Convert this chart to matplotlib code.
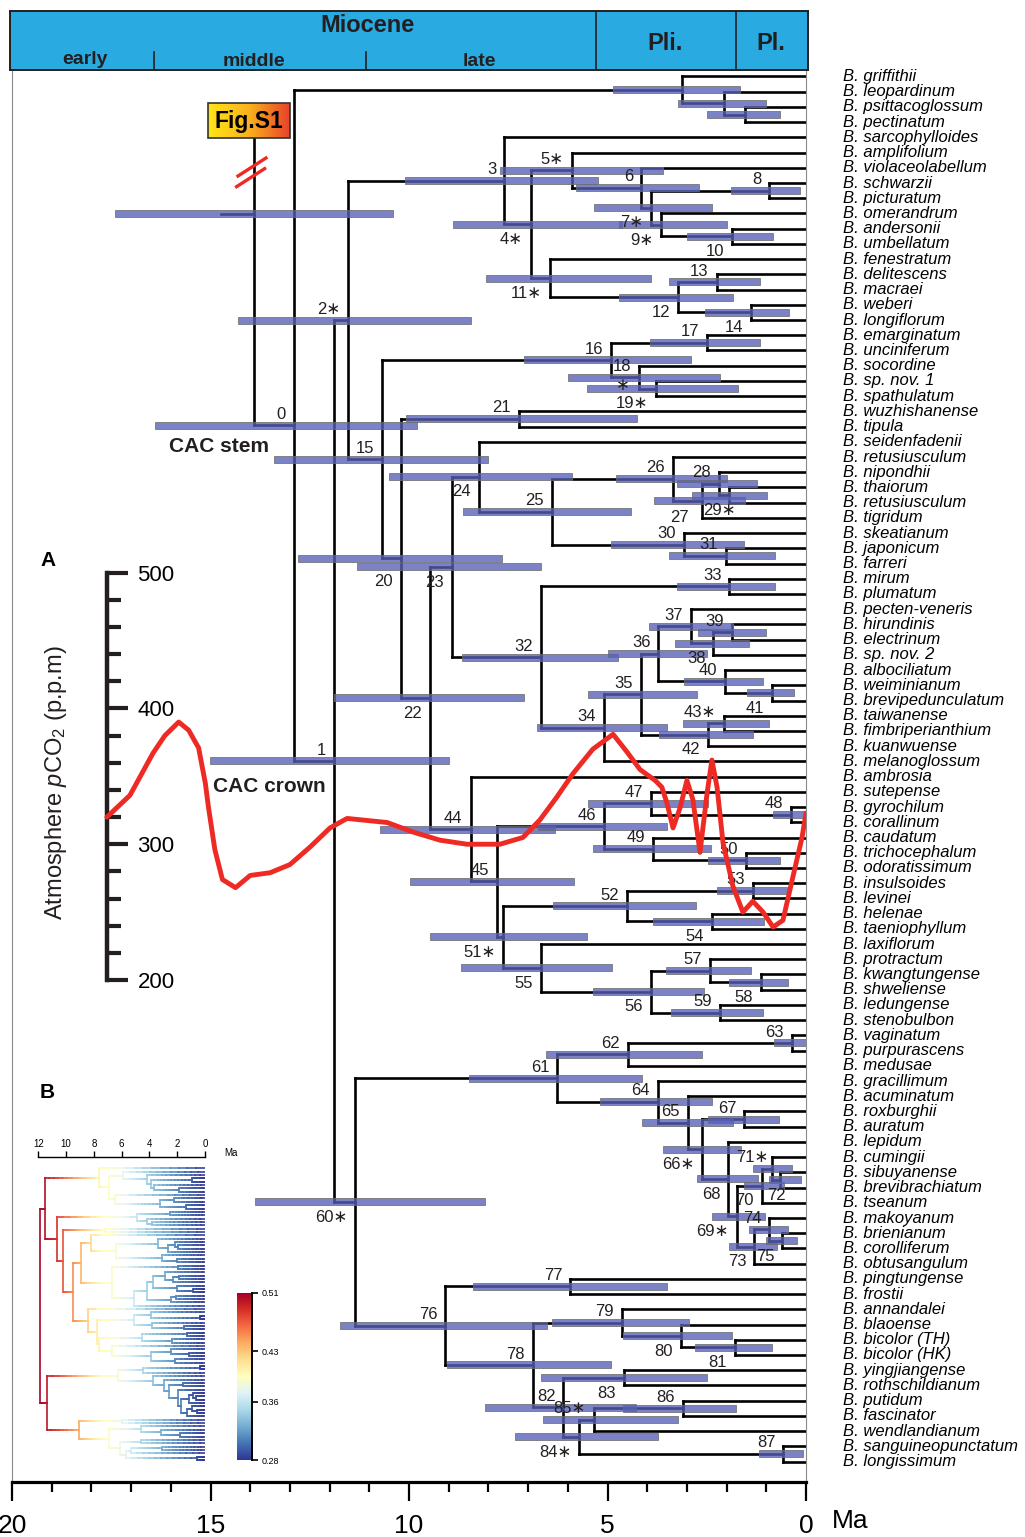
import numpy as np
import matplotlib.pyplot as plt
from matplotlib.collections import LineCollection
from matplotlib.colors import LinearSegmentedColormap
from matplotlib.patches import Rectangle

plt.rcParams['font.family'] = ['Liberation Sans', 'DejaVu Sans']
plt.rcParams['mathtext.fontset'] = 'custom'
plt.rcParams['mathtext.rm'] = 'Liberation Sans'
plt.rcParams['mathtext.it'] = 'Liberation Sans:italic'
NARROW = ['Liberation Sans Narrow', 'Liberation Sans', 'DejaVu Sans']

# ---------------------------------------------------------------- data
tips = ['griffithii', 'leopardinum', 'psittacoglossum', 'pectinatum', 'sarcophylloides',
        'amplifolium', 'violaceolabellum', 'schwarzii', 'picturatum', 'omerandrum',
        'andersonii', 'umbellatum', 'fenestratum', 'delitescens', 'macraei', 'weberi',
        'longiflorum', 'emarginatum', 'unciniferum', 'socordine', 'sp. nov. 1',
        'spathulatum', 'wuzhishanense', 'tipula', 'seidenfadenii', 'retusiusculum',
        'nipondhii', 'thaiorum', 'retusiusculum', 'tigridum', 'skeatianum', 'japonicum',
        'farreri', 'mirum', 'plumatum', 'pecten-veneris', 'hirundinis', 'electrinum',
        'sp. nov. 2', 'albociliatum', 'weiminianum', 'brevipedunculatum', 'taiwanense',
        'fimbriperianthium', 'kuanwuense', 'melanoglossum', 'ambrosia', 'sutepense',
        'gyrochilum', 'corallinum', 'caudatum', 'trichocephalum', 'odoratissimum',
        'insulsoides', 'levinei', 'helenae', 'taeniophyllum', 'laxiflorum', 'protractum',
        'kwangtungense', 'shweliense', 'ledungense', 'stenobulbon', 'vaginatum',
        'purpurascens', 'medusae', 'gracillimum', 'acuminatum', 'roxburghii', 'auratum',
        'lepidum', 'cumingii', 'sibuyanense', 'brevibrachiatum', 'tseanum', 'makoyanum',
        'brienianum', 'corolliferum', 'obtusangulum', 'pingtungense', 'frostii',
        'annandalei', 'blaoense', 'bicolor (TH)', 'bicolor (HK)', 'yingjiangense',
        'rothschildianum', 'putidum', 'fascinator', 'wendlandianum',
        'sanguineopunctatum', 'longissimum']

# topology: node -> children (ints are tip indices, 'out' is the cut outgroup)
children = {
    'root': ['out', '0'], '0': ['A1', '1'], 'A1': [0, 'A2'], 'A2': [1, 'A3'], 'A3': [2, 3],
    '1': ['2', '60'], '2': ['3', '15'], '3': [4, '4'], '4': ['5', '11'], '5': [5, '6'],
    '6': [6, '7'], '7': ['8', '9'], '8': [7, 8], '9': [9, '10'], '10': [10, 11],
    '11': [12, '12'], '12': ['13', '14'], '13': [13, 14], '14': [15, 16],
    '15': ['16', '20'], '16': ['17', '18'], '17': [17, 18], '18': [19, '19'], '19': [20, 21],
    '20': ['21', '22'], '21': [22, 23], '22': ['23', '44'], '23': ['24', '32'],
    '24': [24, '25'], '25': ['26', '30'], '26': [25, '27'], '27': ['28', 29],
    '28': [26, '29'], '29': [27, 28], '30': [30, '31'], '31': [31, 32],
    '32': ['33', '34'], '33': [33, 34], '34': ['35', 45], '35': ['36', '42'],
    '36': ['37', '40'], '37': [35, '38'], '38': ['39', 38], '39': [36, 37],
    '40': [39, '41'], '41': [40, 41], '42': ['43', 44], '43': [42, 43],
    '44': [46, '45'], '45': ['46', '51'], '46': ['47', '49'], '47': [47, '48'],
    '48': [48, 49], '49': [50, '50'], '50': [51, 52], '51': ['52', '55'],
    '52': ['53', '54'], '53': [53, 54], '54': [55, 56], '55': [57, '56'],
    '56': ['57', '59'], '57': [58, '58'], '58': [59, 60], '59': [61, 62],
    '60': ['61', '76'], '61': ['62', '64'], '62': ['63', 65], '63': [63, 64],
    '64': [66, '65'], '65': [67, '66'], '66': ['67', '68'], '67': [68, 69],
    '68': [70, '69'], '69': ['70', '73'], '70': ['71', 74], '71': [71, '72'],
    '72': [72, 73], '73': ['74', 78], '74': [75, '75'], '75': [76, 77],
    '76': ['77', '78'], '77': [79, 80], '78': ['79', '82'], '79': [81, '80'],
    '80': [82, '81'], '81': [83, 84], '82': ['83', '84'], '83': [85, 86],
    '84': ['85', '87'], '85': ['86', 89], '86': [87, 88], '87': [90, 91],
}

# node ages (Ma)
node_age = {
    'root': 13.9, '0': 12.9, 'A1': 3.13, 'A2': 2.07, 'A3': 1.54,
    '1': 11.89, '2': 11.54, '3': 7.6, '4': 6.93, '5': 5.9, '6': 4.16, '7': 3.91,
    '8': 0.93, '9': 3.65, '10': 1.87, '11': 6.45, '12': 3.22, '13': 2.25, '14': 1.39,
    '15': 10.68, '16': 4.9, '17': 2.5, '18': 4.2, '19': 3.78, '20': 10.2, '21': 7.23,
    '22': 9.47, '23': 8.92, '24': 8.24, '25': 6.4, '26': 3.35, '27': 2.63, '28': 2.19,
    '29': 1.94, '30': 3.07, '31': 2.02, '32': 6.67, '33': 1.93, '34': 5.1, '35': 4.16,
    '36': 3.72, '37': 2.9, '38': 2.33, '39': 1.87, '40': 2.04, '41': 0.85, '42': 2.46,
    '43': 2.06, '44': 8.45, '45': 7.79, '46': 5.08, '47': 3.91, '48': 0.38, '49': 3.85,
    '50': 1.52, '51': 7.62, '52': 4.52, '53': 1.33, '54': 2.38, '55': 6.67, '56': 3.91,
    '57': 2.42, '58': 1.14, '59': 2.17, '60': 11.36, '61': 6.26, '62': 4.48, '63': 0.36,
    '64': 3.74, '65': 2.98, '66': 2.61, '67': 1.55, '68': 1.96, '69': 1.75, '70': 1.12,
    '71': 0.85, '72': 0.65, '73': 1.3, '74': 0.92, '75': 0.6, '76': 9.09, '77': 5.94,
    '78': 6.88, '79': 4.64, '80': 3.16, '81': 1.79, '82': 6.11, '83': 4.58, '84': 5.71,
    '85': 5.34, '86': 3.1, '87': 0.57,
}

# 95% HPD intervals (old, young) in Ma
node_hpd = {
    'root': (17.4, 10.4), '0': (16.4, 9.8), 'A1': (4.86, 1.66), 'A2': (3.22, 1.0),
    'A3': (2.49, 0.65), '1': (15.0, 9.0), '2': (14.3, 8.44), '3': (10.1, 5.24),
    '4': (8.88, 4.64), '5': (7.72, 3.61), '6': (5.79, 2.69), '7': (5.34, 2.38),
    '8': (1.9, 0.15), '9': (4.72, 2.0), '10': (3.0, 0.82), '11': (8.06, 3.91),
    '12': (4.72, 1.85), '13': (3.46, 1.16), '14': (2.54, 0.43), '15': (13.4, 8.0),
    '16': (7.1, 2.9), '17': (3.93, 1.16), '18': (6.0, 2.17), '19': (5.52, 1.71),
    '20': (12.8, 7.66), '21': (10.07, 4.26), '22': (11.9, 7.1), '23': (11.3, 6.67),
    '24': (10.5, 5.9), '25': (8.64, 4.4), '26': (4.79, 1.99), '27': (3.83, 1.54),
    '28': (3.25, 1.23), '29': (2.87, 0.98), '30': (4.9, 1.56), '31': (3.46, 0.78),
    '32': (8.67, 4.74), '33': (3.25, 0.78), '34': (6.78, 3.51), '35': (5.49, 2.75),
    '36': (4.99, 2.49), '37': (3.95, 1.84), '38': (3.3, 1.44), '39': (2.72, 1.0),
    '40': (3.07, 1.08), '41': (1.49, 0.3), '42': (3.7, 1.33), '43': (3.1, 0.93),
    '44': (10.73, 6.32), '45': (9.97, 5.84), '46': (6.75, 3.51), '47': (5.5, 2.46),
    '48': (0.83, 0.03), '49': (5.37, 2.4), '50': (2.48, 0.65), '51': (9.47, 5.52),
    '52': (6.37, 2.77), '53': (2.25, 0.49), '54': (3.85, 1.06), '55': (8.69, 4.88),
    '56': (5.37, 2.56), '57': (3.53, 1.39), '58': (1.93, 0.45), '59': (3.4, 1.08),
    '60': (13.88, 8.09), '61': (8.48, 4.14), '62': (6.55, 2.61), '63': (0.8, 0.0),
    '64': (5.19, 2.36), '65': (4.12, 1.85), '66': (3.61, 1.64), '67': (2.46, 0.68),
    '68': (2.75, 1.2), '69': (2.37, 1.03), '70': (1.55, 0.55), '71': (1.34, 0.35),
    '72': (0.92, 0.13), '73': (1.93, 0.74), '74': (1.43, 0.45), '75': (1.02, 0.22),
    '76': (11.74, 6.53), '77': (8.4, 3.49), '78': (9.05, 4.91), '79': (6.39, 2.94),
    '80': (4.6, 1.87), '81': (2.8, 0.85), '82': (8.09, 4.27), '83': (6.68, 2.5),
    '84': (7.33, 3.72), '85': (6.62, 3.23), '86': (4.62, 1.76), '87': (1.18, 0.07),
}

starred = {'2', '4', '5', '7', '9', '11', '18', '19', '29', '43', '51', '60', '66',
           '69', '71', '84', '85'}
label_below = {'4', '7', '9', '10', '11', '12', '14', '19', '20', '22', '23', '24', '27',
               '29', '38', '41', '42', '51', '54', '55', '56', '58', '60', '66', '68',
               '69', '70', '72', '73', '75', '80', '81', '83', '84'}
# a few labels sit off the usual spot (pixels right, pixels down)
label_nudge = {'29': (15, 0), '27': (-5, 2), '20': (0, 8), '72': (13, 0), '71': (4, 0)}

OUTGROUP_ROW = -4.9
ROOT_STEM_AGE = 14.74

# atmospheric CO2 curve
co2_age = [17.61, 17.03, 16.45, 16.15, 15.80, 15.55, 15.30, 15.13, 15.05, 14.89, 14.70,
           14.37, 14.0, 13.5, 13.0, 12.49, 11.99, 11.56, 10.55, 9.9, 9.22, 8.54, 7.71,
           7.13, 6.70, 6.27, 5.87, 5.37, 4.86, 4.51, 4.18, 3.80, 3.63, 3.50, 3.35, 3.17,
           3.0, 2.85, 2.67, 2.49, 2.37, 2.24, 2.09, 1.84, 1.59, 1.34, 1.08, 0.83, 0.58,
           0.33, 0.10, 0.0]
co2_ppm = [320, 336, 367, 380, 390, 384, 371, 345, 327, 296, 274, 268, 277, 279, 285,
           298, 312, 319, 316, 309, 303, 300, 300, 305, 318, 335, 352, 370, 381, 368,
           355, 347, 342, 330, 312, 327, 347, 333, 294, 338, 362, 342, 301, 269, 250,
           258, 250, 239, 244, 276, 305, 323]

# inset B: rate colour read along the time axis
b_age_knots = [0, 2, 4.5, 6.2, 7.5, 9, 10.8, 12]
b_rate_knots = [0.28, 0.31, 0.35, 0.385, 0.40, 0.44, 0.49, 0.51]
cbar_ticks = [0.28, 0.36, 0.43, 0.51]

epoch_bounds = [5.3, 1.76]
stage_bounds = [16.42, 11.09]

# ---------------------------------------------------------------- layout
W, H = 1025, 1537
fig = plt.figure(figsize=(W / 100, H / 100), dpi=100)


def axes_px(x0, y0, x1, y1):
    return fig.add_axes([x0 / W, 1 - y1 / H, (x1 - x0) / W, (y1 - y0) / H])


PX_MA = 39.7           # pixels per Myr on main time axis
X0 = 806               # pixel of 0 Ma
ROW0, ROW_H = 76.5, 15.22


def mx(px):
    return (X0 - px) / PX_MA


def my(py):
    return (py - ROW0) / ROW_H


def row(n):
    if isinstance(n, int):
        return float(n)
    if n == 'out':
        return OUTGROUP_ROW
    k = children[n]
    return 0.5 * (row(k[0]) + row(k[-1]))


def age(n):
    return 0.0 if isinstance(n, int) else node_age[n]


ax = axes_px(12, 70, 806, 1482)
ax.set_xlim(20, 0)
ax.set_ylim(my(1482), my(70))

# fig.S1 box marking the outgroup
box_old, box_young = mx(208), mx(290)
box_top, box_bot = my(103), my(138)
grad = LinearSegmentedColormap.from_list('s1', ['#ffe617', '#f9b21c', '#e8432a'])
ax.imshow(np.linspace(0, 1, 200)[None, :], cmap=grad, aspect='auto',
          extent=[box_old, box_young, box_bot, box_top], zorder=5)
ax.add_patch(Rectangle((box_young, box_top), box_old - box_young, box_bot - box_top,
                       fill=False, ec='#333333', lw=1.2, zorder=6))
ax.text((box_old + box_young) / 2, (box_top + box_bot) / 2 + 0.05, 'Fig.S1',
        ha='center', va='center', fontsize=16.5, fontweight='bold', zorder=7)

# branches
segs = []
for n, kids in children.items():
    a = age(n)
    top = box_bot if n == 'root' else row(kids[0])
    segs.append([(a, top), (a, row(kids[-1]))])
    for c in kids:
        if c == 'out':
            continue
        segs.append([(a, row(c)), (age(c), row(c))])
segs.append([(ROOT_STEM_AGE, row('root')), (age('root'), row('root'))])
ax.add_collection(LineCollection(segs, colors='k', linewidths=1.9,
                                 capstyle='projecting', zorder=2))

# broken outgroup marks
for dy in (0.0, 0.7):
    ax.plot([mx(238) + 0.05 * dy, mx(266) + 0.05 * dy],
            [my(176) + dy, my(158) + dy], color='#ee2a24', lw=2.4, zorder=4)

# HPD bars
for n, (lo, hi) in node_hpd.items():
    r = row(n)
    ax.add_patch(Rectangle((hi, r - 0.23), lo - hi, 0.46, facecolor='#5660b6',
                           alpha=0.78, edgecolor='#6d6d6d', lw=0.7, zorder=3))

# node numbers
STAR = '\u2217'
for n in children:
    if not n.isdigit():
        continue
    a, r = age(n), row(n)
    dxp, dyp = label_nudge.get(n, (0, 0))
    txt = n + (STAR if n in starred and n != '18' else '')
    y = r + 1.0 if n in label_below else r - 0.72
    ax.text(a + 0.2 - dxp / PX_MA, y + dyp / ROW_H, txt, ha='right', va='center',
            fontsize=12, color='#231f20', zorder=4)
    if n == '18':
        ax.text(a + 0.25, r + 0.55, STAR, ha='right', va='center', fontsize=12,
                color='#231f20', zorder=4)

ax.text(age('0') + 0.62, row('0') + 1.4, 'CAC stem', ha='right', va='center',
        fontsize=15, fontweight='bold', color='#231f20')
ax.text(age('1') + 0.2, row('1') + 1.7, 'CAC crown', ha='right', va='center',
        fontsize=15, fontweight='bold', color='#231f20')

# tip labels
for i, name in enumerate(tips):
    ax.text(mx(843), i, 'B. ' + name, ha='left', va='center', fontsize=12,
            style='italic', clip_on=False)

# frame and time axis
for s in ('left', 'right'):
    ax.spines[s].set_color('#8a8a8a')
    ax.spines[s].set_linewidth(0.8)
ax.spines['top'].set_visible(False)
ax.spines['bottom'].set_linewidth(2.3)
ax.set_yticks([])
ax.set_xticks(range(0, 21, 5))
ax.set_xticks(range(0, 21), minor=True)
ax.tick_params(axis='x', which='major', length=14, width=1.6, pad=9, labelsize=19)
ax.tick_params(axis='x', which='minor', length=7, width=1.6)
for t in ax.get_xticklabels():
    t.set_fontfamily(NARROW)
fig.text(850 / W, 1 - 1521 / H, 'Ma', ha='center', va='center', fontsize=19,
         family=NARROW)

# ---------------------------------------------------------------- CO2 (panel A)
def ppm(py):
    return 500 - (py - 572.7) * 300 / 407.3


axc = axes_px(12, 70, 806, 1482)
axc.set_xlim(20, 0)
axc.set_ylim(ppm(1482), ppm(70))
axc.patch.set_visible(False)
for s in ('top', 'bottom', 'left'):
    axc.spines[s].set_visible(False)
axc.spines['right'].set_position(('data', mx(107)))
axc.spines['right'].set_bounds(200, 500)
axc.spines['right'].set_linewidth(3.2)
axc.spines['right'].set_color('#231f20')
axc.set_xticks([])
axc.yaxis.tick_right()
axc.set_yticks([200, 300, 400, 500])
axc.set_yticks(np.arange(220, 500, 20), minor=True)
axc.tick_params(axis='y', which='major', direction='out', length=15, width=3,
                labelsize=16, pad=7, color='#231f20')
axc.tick_params(axis='y', which='minor', direction='out', length=10, width=3,
                color='#231f20')
axc.plot(co2_age, co2_ppm, color='#ee2a24', lw=3.5, solid_joinstyle='round',
         solid_capstyle='round', zorder=5)
axc.text(mx(56), ppm(783), r'Atmosphere $\mathit{p}$CO$_2$ (p.p.m)', rotation=90,
         ha='center', va='center', fontsize=17, color='#231f20')
fig.text(48 / W, 1 - 561 / H, 'A', ha='center', va='center', fontsize=15,
         fontweight='bold')

# ---------------------------------------------------------------- header
axh = axes_px(10, 11, 808, 70)
axh.set_xlim(mx(10), mx(808))
axh.set_ylim(0, 1)
axh.set_facecolor('#29abe2')
axh.set_xticks([])
axh.set_yticks([])
for s in axh.spines.values():
    s.set_linewidth(1.4)
    s.set_color('#231f20')
for b in epoch_bounds:
    axh.axvline(b, color='#231f20', lw=1.2)
for b in stage_bounds:
    axh.plot([b, b], [0, 0.3], color='#231f20', lw=1.2)
hkw = dict(ha='center', va='center', fontweight='bold', color='#231f20', family=NARROW)
axh.text(mx(367), 0.75, 'Miocene', fontsize=17, **hkw)
axh.text(mx(665), 0.45, 'Pli.', fontsize=17, **hkw)
axh.text(mx(771), 0.45, 'Pl.', fontsize=17, **hkw)
axh.text(mx(85), 0.17, 'early', fontsize=14, **hkw)
axh.text(mx(254), 0.15, 'middle', fontsize=14, **hkw)
axh.text(mx(479), 0.15, 'late', fontsize=14, **hkw)

# ---------------------------------------------------------------- inset B
b_row0, b_row_h = 1168.3, 3.353


def byrow(py):
    return 4 + (py - b_row0) / b_row_h


axb = axes_px(38.3, 1157, 205, 1463)
axb.set_xlim(12, 0)
axb.set_ylim(byrow(1463), byrow(1157))
axb.patch.set_visible(False)
norm = plt.Normalize(0.28, 0.51)
segs_b, vals_b = [], []


def walk_b(n):
    a = age(n)
    k = children[n]
    segs_b.append([(a, row(k[0])), (a, row(k[-1]))])
    vals_b.append(np.interp(a, b_age_knots, b_rate_knots))
    for c in k:
        ca, r = age(c), row(c)
        edges = np.linspace(a, ca, 13)
        for e0, e1 in zip(edges[:-1], edges[1:]):
            segs_b.append([(e0, r), (e1, r)])
            vals_b.append(np.interp(0.5 * (e0 + e1), b_age_knots, b_rate_knots))
        if not isinstance(c, int):
            walk_b(c)


walk_b('1')
lcb = LineCollection(segs_b, cmap='RdYlBu_r', norm=norm, linewidths=1.2,
                     capstyle='projecting')
lcb.set_array(np.array(vals_b))
axb.add_collection(lcb)
for s in ('left', 'right', 'bottom'):
    axb.spines[s].set_visible(False)
axb.spines['top'].set_bounds(0, 12)
axb.spines['top'].set_linewidth(1.0)
axb.xaxis.tick_top()
axb.set_xticks(range(0, 13, 2))
axb.tick_params(axis='x', length=4, width=1.0, labelsize=7, pad=2)
axb.set_yticks([])
fig.text(231 / W, 1 - 1153 / H, 'Ma', ha='center', va='center', fontsize=7)
fig.text(47 / W, 1 - 1093 / H, 'B', ha='center', va='center', fontsize=15,
         fontweight='bold')

axcb = axes_px(237, 1293, 252, 1460)
axcb.imshow(np.linspace(0.28, 0.51, 256)[:, None], cmap='RdYlBu_r', norm=norm,
            aspect='auto', origin='lower', extent=[0, 1, 0.28, 0.51])
axcb.set_xlim(0, 1)
axcb.set_ylim(0.28, 0.51)
for s in ('left', 'top', 'bottom'):
    axcb.spines[s].set_visible(False)
axcb.spines['right'].set_linewidth(1.4)
axcb.set_xticks([])
axcb.yaxis.tick_right()
axcb.set_yticks(cbar_ticks)
axcb.set_yticklabels([f'{v:.2f}' for v in cbar_ticks])
axcb.tick_params(axis='y', length=4, width=1.2, labelsize=6.5, pad=3)

fig.savefig('out.png', dpi=100)
